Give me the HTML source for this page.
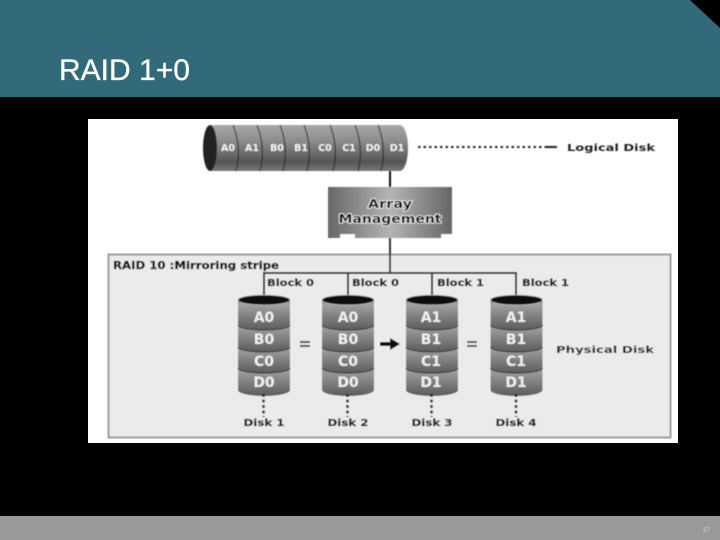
<!DOCTYPE html>
<html><head><meta charset="utf-8"><style>
html,body{margin:0;padding:0;background:#000;width:720px;height:540px;overflow:hidden}
svg{display:block}
text{font-family:"DejaVu Sans","Liberation Sans",sans-serif;font-weight:bold}
</style></head><body>
<svg width="720" height="540" viewBox="0 0 720 540" xmlns="http://www.w3.org/2000/svg">
<defs>
<linearGradient id="cyl" x1="0" y1="0" x2="0" y2="1"><stop offset="0" stop-color="#a8a8a8"/><stop offset=".35" stop-color="#8c8c8c"/><stop offset=".8" stop-color="#565656"/><stop offset="1" stop-color="#777"/></linearGradient>
<linearGradient id="lay" x1="0" y1="0" x2="0" y2="1"><stop offset="0" stop-color="#a6a6a6"/><stop offset=".55" stop-color="#7c7c7c"/><stop offset="1" stop-color="#5c5c5c"/></linearGradient>
<linearGradient id="arr" x1="0" y1="0" x2="1" y2="0"><stop offset="0" stop-color="#666"/><stop offset=".5" stop-color="#b4b4b4"/><stop offset="1" stop-color="#666"/></linearGradient>
<filter id="b" x="-5%" y="-5%" width="110%" height="110%"><feGaussianBlur stdDeviation="0.45"/></filter>
<g id="d">
<path d="M-26,0V90A26,6 0 0 0 26,90V0Z" fill="#777"/>
<path d="M-26,3V25A26,5 0 0 0 26,25V3Z" fill="url(#lay)"/>
<path d="M-26,25A26,5 0 0 0 26,25V47A26,5 0 0 1 -26,47Z" fill="url(#lay)"/>
<path d="M-26,47A26,5 0 0 0 26,47V68A26,5 0 0 1 -26,68Z" fill="url(#lay)"/>
<path d="M-26,68A26,5 0 0 0 26,68V90A26,6 0 0 1 -26,90Z" fill="url(#lay)"/>
<g fill="none" stroke-width=".9">
<path d="M-26,25A26,5 0 0 0 26,25" stroke="#2c2c2c"/><path d="M-26,47A26,5 0 0 0 26,47" stroke="#2c2c2c"/><path d="M-26,68A26,5 0 0 0 26,68" stroke="#2c2c2c"/>
</g>
<ellipse cx="0" cy="0" rx="26" ry="5" fill="#111" stroke="#bbb" stroke-width=".7"/>
</g>
</defs>

<rect x="0" y="0" width="720" height="97" fill="#336a79"/>
<polygon points="690,0 720,0 720,28" fill="#000"/>
<text x="59" y="80" style="font-family:'Liberation Sans',sans-serif;font-weight:normal" font-size="30" fill="#fff" stroke="#fff" stroke-width=".3">RAID 1+0</text>
<rect x="0" y="516" width="720" height="24" fill="#999"/>
<text x="703" y="532" style="font-family:'Liberation Sans',sans-serif;font-weight:normal" font-size="6" fill="#ddd">27</text>

<rect x="88" y="119" width="590" height="324" fill="#fff"/>
<g filter="url(#b)">
<rect x="108.500" y="254.500" width="562" height="183" fill="#ebebeb" stroke="#9c9c9c" stroke-width="2"/>

<path d="M210,125H400A8,23 0 0 1 400,171H210Z" fill="url(#cyl)"/>
<ellipse cx="210" cy="148" rx="7" ry="23" fill="#222"/>
<g fill="none" stroke="#222" stroke-width="1">
<path d="M233,125Q242,148 236,171"/><path d="M257,125Q266,148 260,171"/><path d="M280,125Q289,148 283,171"/><path d="M304,125Q313,148 307,171"/><path d="M330,125Q339,148 333,171"/><path d="M355,125Q364,148 358,171"/><path d="M378,125Q387,148 381,171"/>
</g>
<g font-size="9.500" fill="#f2f2f2" text-anchor="middle">
<text x="228" y="151">A0</text><text x="252" y="151">A1</text><text x="277" y="151">B0</text><text x="301" y="151">B1</text><text x="325" y="151">C0</text><text x="349" y="151">C1</text><text x="373" y="151">D0</text><text x="397" y="151">D1</text>
</g>
<line x1="418" y1="147" x2="548" y2="147" stroke="#222" stroke-width="2" stroke-dasharray="2.500 3"/>
<line x1="546" y1="147" x2="557" y2="147" stroke="#222" stroke-width="2"/>
<text x="567" y="151" font-size="10" fill="#222" textLength="88" lengthAdjust="spacingAndGlyphs">Logical Disk</text>

<line x1="390" y1="171" x2="390" y2="187" stroke="#111" stroke-width="2"/>
<path d="M328,187H452V234H441V238H355V234H340V238H328Z" fill="url(#arr)"/>
<g font-size="12" fill="#111" text-anchor="middle" stroke="#eee" stroke-width="1.600" paint-order="stroke">
<text x="390" y="208" textLength="44" lengthAdjust="spacingAndGlyphs">Array</text>
<text x="390" y="223" textLength="103" lengthAdjust="spacingAndGlyphs">Management</text>
</g>

<path d="M390,238V273M264,298V273H516V298M348,273V298M432,273V298" fill="none" stroke="#333" stroke-width="2"/>

<text x="113" y="269" font-size="10.500" fill="#111" stroke="#111" stroke-width=".25" textLength="166" lengthAdjust="spacingAndGlyphs">RAID 10 :Mirroring stripe</text>
<g font-size="9.500" fill="#222" stroke="#222" stroke-width=".2">
<text x="267" y="286" textLength="47" lengthAdjust="spacingAndGlyphs">Block 0</text>
<text x="352" y="286" textLength="47" lengthAdjust="spacingAndGlyphs">Block 0</text>
<text x="437" y="286" textLength="47" lengthAdjust="spacingAndGlyphs">Block 1</text>
<text x="522" y="286" textLength="47" lengthAdjust="spacingAndGlyphs">Block 1</text>
</g>

<use href="#d" x="264" y="300"/><use href="#d" x="348" y="300"/><use href="#d" x="432" y="300"/><use href="#d" x="516.500" y="300"/>

<g font-size="14" fill="#f0f0f0" text-anchor="middle">
<text x="264" y="322">A0</text><text x="264" y="344">B0</text><text x="264" y="366">C0</text><text x="264" y="387">D0</text>
<text x="348" y="322">A0</text><text x="348" y="344">B0</text><text x="348" y="366">C0</text><text x="348" y="387">D0</text>
<text x="431" y="322">A1</text><text x="431" y="344">B1</text><text x="431" y="366">C1</text><text x="431" y="387">D1</text>
<text x="516" y="322">A1</text><text x="516" y="344">B1</text><text x="516" y="366">C1</text><text x="516" y="387">D1</text>
</g>

<path d="M300,342h10M300,346h10M467,342h10M467,346h10" stroke="#333" stroke-width="1.800"/>
<path d="M380,342H390V338L400,344L390,350V346H380Z" fill="#111"/>
<text x="556" y="353" font-size="10" fill="#222" textLength="98" lengthAdjust="spacingAndGlyphs">Physical Disk</text>

<path d="M263.500,394V417M347.500,394V417M431.500,394V417M516,394V417" stroke="#222" stroke-width="2.500" stroke-dasharray="3 2.500"/>
<g font-size="9.500" fill="#222" stroke="#222" stroke-width=".2" text-anchor="middle">
<text x="264" y="426" textLength="41" lengthAdjust="spacingAndGlyphs">Disk 1</text>
<text x="348" y="426" textLength="41" lengthAdjust="spacingAndGlyphs">Disk 2</text>
<text x="432" y="426" textLength="41" lengthAdjust="spacingAndGlyphs">Disk 3</text>
<text x="516" y="426" textLength="41" lengthAdjust="spacingAndGlyphs">Disk 4</text>
</g>
</g>
</svg>
</body></html>
